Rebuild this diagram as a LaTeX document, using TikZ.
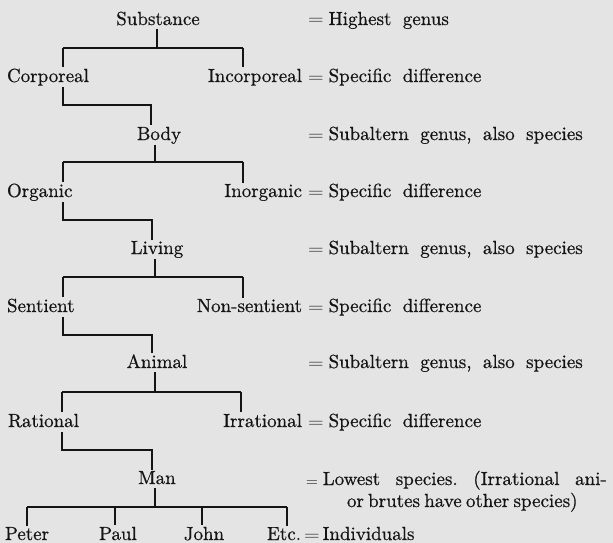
\documentclass[tikz,border=0pt]{standalone}
\usepackage{graphicx}
\usepackage{fontspec}
\setmainfont{lmroman10-regular.otf}[FakeBold=0.6]
\definecolor{ink}{RGB}{20,20,20}
\definecolor{paper}{RGB}{228,228,228}
\newcommand{\eqs}{\scalebox{1.25}[1]{$=$}\hspace{5pt}}
\newcommand{\widespaces}{\frenchspacing\spaceskip=0.6em plus 0.2em minus 0.1em\relax}
\begin{document}
\begin{tikzpicture}[x=1pt,y=-1pt,
  every node/.style={inner sep=0pt, outer sep=0pt, text=ink,
    font=\fontsize{19}{22}\selectfont},
  term/.style={anchor=base},
  lterm/.style={anchor=base west},
  rterm/.style={anchor=base east},
  note/.style={anchor=base west, execute at begin node=\widespaces},
  ln/.style={line width=1.1pt, draw=ink},
  tick/.style={ln, shorten >=1.5pt}]
\fill[paper] (0,0) rectangle (613,543);
\useasboundingbox (0,0) rectangle (613,543);

% ---------- terms ----------
\node[term]  (sub)   at (158,25)  {Substance};
\node[lterm] (cor)   at (7,82)    {Corporeal};
\node[rterm] (inc)   at (302,82)  {Incorporeal};
\node[term]  (body)  at (159,140) {Body};
\node[lterm] (org)   at (7,197)   {Organic};
\node[rterm] (inorg) at (302,197) {Inorganic};
\node[term]  (liv)   at (157,254) {Living};
\node[lterm] (sen)   at (7,312)   {Sentient};
\node[rterm] (nsen)  at (302,312) {Non-sentient};
\node[term]  (ani)   at (157,368) {Animal};
\node[lterm] (rat)   at (8,427)   {Rational};
\node[rterm] (irr)   at (302,427) {Irrational};
\node[term]  (man)   at (157,484) {Man};
\node[term]  (pet)   at (27,540)  {Peter};
\node[term]  (pau)   at (118,540) {Paul};
\node[term]  (joh)   at (204,540) {John};
\node[rterm] (etc)   at (301,540) {Etc.};

% ---------- notes ----------
\node[note] (n0) at (308,25)  {\eqs Highest genus};
\node[note] (n1) at (308,82)  {\eqs Specific difference};
\node[note] (n2) at (308,140) {\eqs Subaltern genus, also species};
\node[note] (n3) at (308,197) {\eqs Specific difference};
\node[note] (n4) at (308,254) {\eqs Subaltern genus, also species};
\node[note] (n5) at (308,312) {\eqs Specific difference};
\node[note] (n6) at (308,368) {\eqs Subaltern genus, also species};
\node[note] (n7) at (308,427) {\eqs Specific difference};
\node[note] (n8) at (306,485) {\raisebox{-1.5pt}{\scalebox{0.95}{$=$}}\hspace{5pt}\makebox[284pt][s]{Lowest species. (Irrational ani-}};
\node[anchor=base west] (n8b) at (347,507) {\frenchspacing\makebox[228pt][s]{or brutes have other species)}};
\node[note] (n9) at (304,540) {\scalebox{1.25}[1]{$=$}\hspace{3pt}Individuals};

% ---------- bars ----------
\coordinate (L0) at (63,48);  \coordinate (R0) at (243,48);  \coordinate (P0) at (157,48);
\coordinate (E1) at (151,105);
\coordinate (L1) at (63,162); \coordinate (R1) at (243,162); \coordinate (P1) at (155,162);
\coordinate (E2) at (152,220);
\coordinate (L2) at (63,277); \coordinate (R2) at (243,277); \coordinate (P2) at (155,277);
\coordinate (E3) at (152,335);
\coordinate (L3) at (62,392); \coordinate (R3) at (241,392); \coordinate (P3) at (155,392);
\coordinate (E4) at (152,450);
\coordinate (L4) at (27,507);  \coordinate (R4) at (287,507); \coordinate (P4) at (155,507);
\coordinate (T1) at (115,507); \coordinate (T2) at (202,507);

% level 0
\draw[ln, shorten <=4pt] (P0 |- sub.base) -- (P0);
\draw[ln] (L0) -- (R0);
\draw[tick] (L0) -- (L0 |- cor.north);
\draw[tick] (R0) -- (R0 |- inc.north);
\draw[ln, shorten <=5pt, shorten >=1.5pt] (L0 |- cor.base) -- (E1 -| L0) -- (E1) -- (E1 |- body.north);

% level 1
\draw[ln, shorten <=5pt] (P1 |- body.base) -- (P1);
\draw[ln] (L1) -- (R1);
\draw[tick] (L1) -- (L1 |- org.north);
\draw[tick] (R1) -- (R1 |- inorg.north);
\draw[ln, shorten <=5pt, shorten >=1.5pt] (L1 |- org.base) -- (E2 -| L1) -- (E2) -- (E2 |- liv.north);

% level 2
\draw[ln, shorten <=5pt] (P2 |- liv.base) -- (P2);
\draw[ln] (L2) -- (R2);
\draw[tick] (L2) -- (L2 |- sen.north);
\draw[tick] (R2) -- (R2 |- nsen.north);
\draw[ln, shorten <=5pt, shorten >=1.5pt] (L2 |- sen.base) -- (E3 -| L2) -- (E3) -- (E3 |- ani.north);

% level 3
\draw[ln, shorten <=4pt] (P3 |- ani.base) -- (P3);
\draw[ln] (L3) -- (R3);
\draw[tick] (L3) -- (L3 |- rat.north);
\draw[tick] (R3) -- (R3 |- irr.north);
\draw[ln, shorten <=5pt, shorten >=1.5pt] (L3 |- rat.base) -- (E4 -| L3) -- (E4) -- (E4 |- man.north);

% level 4
\draw[ln, shorten <=4pt] (P4 |- man.base) -- (P4);
\draw[ln] (L4) -- (R4);
\draw[tick] (L4) -- (L4 |- pet.north);
\draw[tick] (T1) -- (T1 |- pau.north);
\draw[tick] (T2) -- (T2 |- joh.north);
\draw[tick] (R4) -- (R4 |- etc.north);
\end{tikzpicture}
\end{document}
